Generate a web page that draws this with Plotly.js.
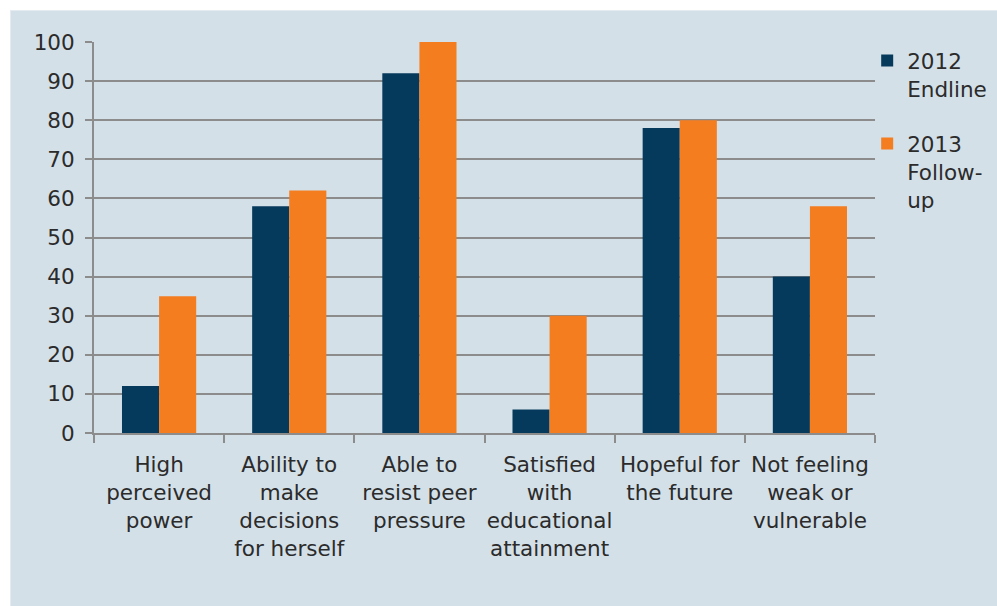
<!DOCTYPE html>
<html><head><meta charset="utf-8">
<script src="https://cdn.plot.ly/plotly-3.0.1.min.js"></script>
<style>
html,body{margin:0;padding:0;background:#fff;}
#chart{position:absolute;left:10px;top:10px;width:987px;height:596px;}
#edge{position:absolute;left:10px;top:10px;width:987px;height:596px;border-top:1px solid #e4ecf1;border-left:1px solid #e4ecf1;box-sizing:border-box;pointer-events:none;}
</style></head><body>
<div id="chart"></div><div id="edge"></div>
<script>
const categories = ["High<br>perceived<br>power","Ability to<br>make<br>decisions<br>for herself","Able to<br>resist peer<br>pressure","Satisfied<br>with<br>educational<br>attainment","Hopeful for<br>the future","Not feeling<br>weak or<br>vulnerable"];
const endline2012 = [12, 58, 92, 6, 78, 40];
const followup2013 = [35, 62, 100, 30, 80, 58];
const seriesNames = ["2012<br>Endline", "2013<br>Follow-<br>up"];
const yTicks = [0,10,20,30,40,50,60,70,80,90,100];

const font = {family: "DejaVu Sans, sans-serif", size: 21.5, color: "#2b2b2b"};
const traces = [
  {type:"bar", x:categories, y:endline2012, name:seriesNames[0], marker:{color:"#063a5c"}, legendgroup:"a"},
  {type:"bar", x:categories, y:followup2013, name:seriesNames[1], marker:{color:"#f47d20"}, legendgroup:"b"}
];
const layout = {
  width:987, height:596,
  paper_bgcolor:"#d4e0e8", plot_bgcolor:"#d4e0e8",
  margin:{l:84, r:122, t:32, b:173, autoexpand:false},
  font:font,
  barmode:"group", bargap:0.43, bargroupgap:0,
  showlegend:true,
  legend:{x:0.99, y:1.005, xanchor:"left", yanchor:"top", valign:"top", bgcolor:"rgba(0,0,0,0)", tracegroupgap:24, font:font, itemwidth:30},
  xaxis:{type:"category", showline:true, linecolor:"#8c8c8c", linewidth:2, ticks:"outside", ticklen:8, tickcolor:"#8c8c8c", tickwidth:2, tickson:"boundaries", showgrid:false, tickfont:font, ticklabelstandoff:11, tickangle:0},
  yaxis:{range:[0,100], tickvals:yTicks, showline:true, linecolor:"#8c8c8c", linewidth:2, ticks:"outside", ticklen:7, tickcolor:"#8c8c8c", tickwidth:2, showgrid:true, gridcolor:"#8c8c8c", gridwidth:2, zeroline:false, tickfont:font, ticklabelstandoff:6}
};
Plotly.newPlot("chart", traces, layout, {displayModeBar:false, staticPlot:true});
</script></body></html>
